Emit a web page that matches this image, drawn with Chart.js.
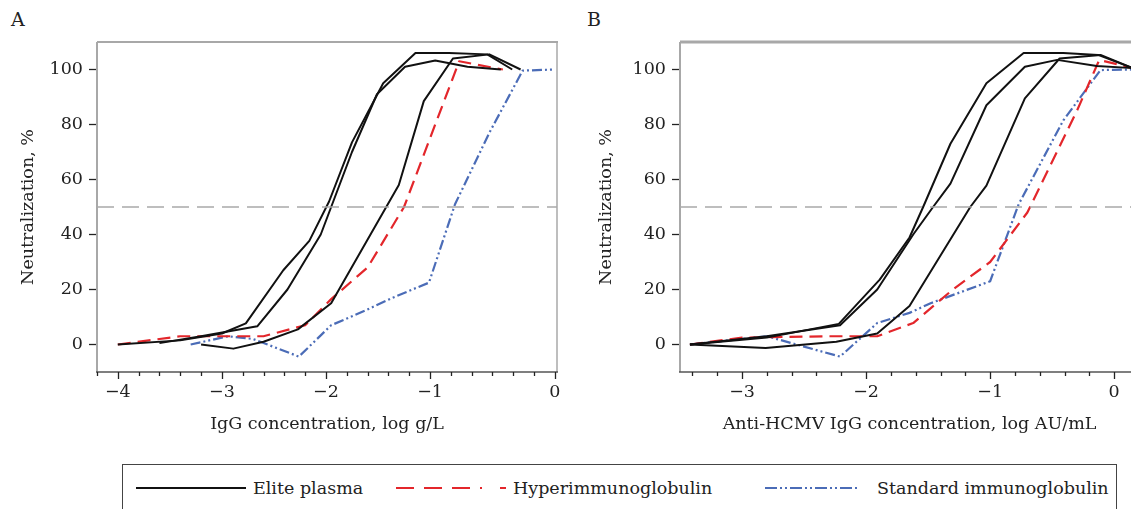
<!DOCTYPE html>
<html>
<head>
<meta charset="utf-8">
<script src="https://cdn.jsdelivr.net/npm/chart.js@4.4.0/dist/chart.umd.min.js"></script>
<style>
  html, body { margin: 0; padding: 0; background: #fff; }
  body { width: 1131px; height: 509px; overflow: hidden; position: relative; font-family: 'DejaVu Serif', serif; color: #222; }
  canvas { position: absolute; top: 0; }
  #chartA { left: 0; }
  #chartB { left: 577px; }
  .panel { position: absolute; top: 8px; font-size: 19px; }
  #legend { position: absolute; left: 122px; top: 464px; width: 995px; height: 60px; border: 1.5px solid #444; box-sizing: border-box; }
  #legend svg { position: absolute; top: 19px; }
  #legend span { position: absolute; top: 13px; font-size: 17.5px; line-height: 21px; white-space: nowrap; }
</style>
</head>
<body>
<div class="panel" style="left:11px">A</div>
<div class="panel" style="left:587px">B</div>
<canvas id="chartA" width="577" height="440"></canvas>
<canvas id="chartB" width="580" height="440"></canvas>
<div id="legend">
  <svg style="left:13px" width="110" height="8"><line x1="0" y1="4" x2="110" y2="4" stroke="#111" stroke-width="2"/></svg>
  <span style="left:130px">Elite plasma</span>
  <svg style="left:273px" width="110" height="8"><line x1="0" y1="4" x2="110" y2="4" stroke="#e3262b" stroke-width="2.2" stroke-dasharray="18 10 18 10 18 10 2"/></svg>
  <span style="left:390px">Hyperimmunoglobulin</span>
  <svg style="left:642px" width="94" height="8"><line x1="0" y1="4" x2="94" y2="4" stroke="#4b6cb7" stroke-width="2.2" stroke-dasharray="12 3 2 3 2 3"/></svg>
  <span style="left:754px">Standard immunoglobulin</span>
</div>
<script>
// panel A: x = log g/L (axis drawn with "0" label at the end tick)
const A_X_TICKS = [-4, -3, -2, -1, 0.2];
const A_X_LABELS = ['−4', '−3', '−2', '−1', '0'];
const A_ELITE_1 = [[-4, 0], [-3.4, 1.5], [-3.0, 4], [-2.77, 7.7], [-2.41, 27], [-2.16, 37.7], [-1.97, 52], [-1.75, 73.5], [-1.45, 95], [-1.14, 106], [-0.82, 106], [-0.45, 105.5], [-0.21, 100]];
const A_ELITE_2 = [[-3.6, 0.5], [-3.2, 3], [-2.66, 6.6], [-2.37, 20], [-2.05, 40], [-1.75, 70], [-1.51, 91], [-1.24, 101], [-0.95, 103.3], [-0.64, 101], [-0.32, 100]];
const A_ELITE_3 = [[-3.2, 0], [-2.89, -1.5], [-2.6, 1], [-2.27, 5.5], [-1.95, 15], [-1.3, 58], [-1.06, 88.5], [-0.78, 104], [-0.43, 105.5], [-0.13, 100]];
const A_HYPER = [[-4, 0], [-3.4, 3], [-2.6, 3], [-2.2, 7], [-1.95, 16.5], [-1.6, 28], [-1.25, 50], [-0.72, 103], [-0.3, 100]];
const A_STANDARD = [[-3.3, 0], [-2.94, 3], [-2.7, 2], [-2.26, -4.4], [-1.95, 7], [-1.62, 12.4], [-1.36, 17], [-1.01, 22.5], [-0.76, 51], [-0.43, 77], [-0.11, 99.6], [0.2, 100]];

// panel B: x = log AU/mL
const B_X_TICKS = [-3, -2, -1, 0];
const B_X_LABELS = ['−3', '−2', '−1', '0'];
const B_ELITE_1 = [[-3.42, 0], [-2.8, 2.5], [-2.22, 7.5], [-1.89, 23.6], [-1.65, 38.9], [-1.54, 50], [-1.32, 73], [-1.03, 95], [-0.73, 106], [-0.41, 106], [-0.13, 105.3], [0.15, 100.5]];
const B_ELITE_2 = [[-3.42, 0], [-2.8, 3], [-2.21, 7], [-1.91, 20], [-1.62, 40], [-1.46, 50], [-1.32, 58.5], [-1.03, 87], [-0.72, 101], [-0.46, 103.5], [-0.14, 101.3], [0.15, 100.5]];
const B_ELITE_3 = [[-3.42, 0], [-2.81, -1.3], [-2.24, 1], [-1.91, 4], [-1.65, 14], [-1.16, 50], [-1.03, 57.8], [-0.72, 89.5], [-0.44, 104], [-0.11, 105.3], [0.15, 100.5]];
const B_HYPER = [[-3.42, 0], [-3.0, 2.5], [-2.3, 3], [-1.91, 3], [-1.62, 7.8], [-1.3, 20], [-1.0, 30], [-0.7, 48], [-0.3, 85], [-0.12, 103.5], [0.15, 100.5]];
const B_STANDARD = [[-3.42, 0], [-2.8, 3], [-2.21, -4.4], [-1.91, 7.8], [-1.65, 11.5], [-1.48, 15], [-1.0, 23], [-0.77, 51], [-0.41, 81.5], [-0.11, 99.8], [0.15, 100]];

const Y_TICKS = [0, 20, 40, 60, 80, 100];
const HALF = 50;

const BLACK = '#111';
const RED = '#e3262b';
const BLUE = '#4b6cb7';
const FONT = 'DejaVu Serif';
const FS = 17.5;

const pts = (arr) => arr.map(([x, y]) => ({ x, y }));

function line(data, color, dash, width) {
  return {
    data: pts(data), showLine: true, borderColor: color, borderWidth: width || 2,
    borderDash: dash || [], pointRadius: 0, tension: 0, borderJoinStyle: 'round'
  };
}

// grey frame + minor/major ticks along the x axis
function frame(topWidth, minorFrom, majors) {
  return {
    id: 'frame',
    beforeDatasetsDraw(chart) {
      const { ctx, chartArea: a } = chart;
      ctx.save();
      ctx.strokeStyle = '#a8a8a8';
      ctx.lineWidth = topWidth;
      ctx.beginPath(); ctx.moveTo(a.left, a.top); ctx.lineTo(a.right + 1, a.top); ctx.stroke();
      ctx.lineWidth = 2;
      ctx.beginPath(); ctx.moveTo(a.left, a.top); ctx.lineTo(a.left, a.bottom); ctx.stroke();
      ctx.lineWidth = 1.5;
      ctx.beginPath(); ctx.moveTo(a.right, a.top); ctx.lineTo(a.right, a.bottom); ctx.stroke();
      ctx.restore();
    },
    afterDraw(chart) {
      const { ctx, chartArea: a, scales: { x } } = chart;
      ctx.save();
      ctx.strokeStyle = '#555';
      ctx.lineWidth = 1.5;
      ctx.beginPath(); ctx.moveTo(a.left - 1, a.bottom); ctx.lineTo(a.right + 1, a.bottom); ctx.stroke();
      ctx.strokeStyle = '#222';
      ctx.lineWidth = 1.3;
      for (let v = minorFrom; v <= x.max + 1e-6; v += 0.2) {
        const px = Math.round(x.getPixelForValue(v)) + 0.5;
        const major = majors.some(m => Math.abs(m - v) < 1e-6);
        ctx.beginPath(); ctx.moveTo(px, a.bottom); ctx.lineTo(px, a.bottom + (major ? 7 : 4)); ctx.stroke();
      }
      ctx.restore();
    }
  };
}

function makeChart(id, cfg) {
  return new Chart(document.getElementById(id), {
    type: 'scatter',
    data: {
      datasets: [
        line([[cfg.xMin, HALF], [cfg.xMax, HALF]], '#a9a9a9', [17, 8], 1.3),
        ...cfg.elite.map(s => line(s, BLACK, [], 2)),
        line(cfg.hyper, RED, [13, 7], 2.2),
        line(cfg.standard, BLUE, [10, 3, 2, 3, 2, 3], 2.2)
      ]
    },
    options: {
      responsive: false,
      animation: false,
      devicePixelRatio: 1,
      layout: { padding: { top: 42, right: cfg.padRight, bottom: 0, left: 0 } },
      plugins: { legend: { display: false }, tooltip: { enabled: false } },
      scales: {
        x: {
          type: 'linear', min: cfg.xMin, max: cfg.xMax,
          afterBuildTicks: (s) => { s.ticks = cfg.xTicks.map(v => ({ value: v })); },
          afterFit: (s) => { s.height = 68; },
          grid: { display: false, drawTicks: false },
          border: { display: false },
          ticks: {
            autoSkip: false, maxRotation: 0, padding: 10, color: '#222',
            font: { family: FONT, size: FS },
            callback: (v) => { const i = cfg.xTicks.findIndex(t => Math.abs(t - v) < 1e-6); return i >= 0 ? cfg.xLabels[i] : ''; }
          },
          title: {
            display: true, text: cfg.xTitle, color: '#222',
            font: { family: FONT, size: FS }, padding: { top: 0, bottom: 5.5 }
          }
        },
        y: {
          min: -10, max: 110,
          afterBuildTicks: (s) => { s.ticks = Y_TICKS.map(v => ({ value: v })); },
          afterFit: (s) => { s.width = cfg.yWidth; },
          grid: { drawOnChartArea: false, drawTicks: true, tickLength: 8, tickColor: '#222', tickWidth: 1.3 },
          border: { display: false },
          ticks: { padding: 6, color: '#222', font: { family: FONT, size: FS } },
          title: {
            display: true, text: 'Neutralization, %', color: '#222',
            font: { family: FONT, size: FS }, padding: { top: cfg.yTitlePad, bottom: 0 }
          }
        }
      }
    },
    plugins: [frame(cfg.topWidth, cfg.minorFrom, cfg.xTicks)]
  });
}

makeChart('chartA', {
  xMin: -4.2, xMax: 0.22, xTicks: A_X_TICKS, xLabels: A_X_LABELS, minorFrom: -4.2,
  xTitle: 'IgG concentration, log g/L', yWidth: 97, padRight: 20, yTitlePad: 17.5, topWidth: 2,
  elite: [A_ELITE_1, A_ELITE_2, A_ELITE_3], hyper: A_HYPER, standard: A_STANDARD
});

makeChart('chartB', {
  xMin: -3.5, xMax: 0.2, xTicks: B_X_TICKS, xLabels: B_X_LABELS, minorFrom: -3.4,
  xTitle: 'Anti-HCMV IgG concentration, log AU/mL', yWidth: 103, padRight: 18, yTitlePad: 18.5, topWidth: 3,
  elite: [B_ELITE_1, B_ELITE_2, B_ELITE_3], hyper: B_HYPER, standard: B_STANDARD
});
</script>
</body>
</html>
